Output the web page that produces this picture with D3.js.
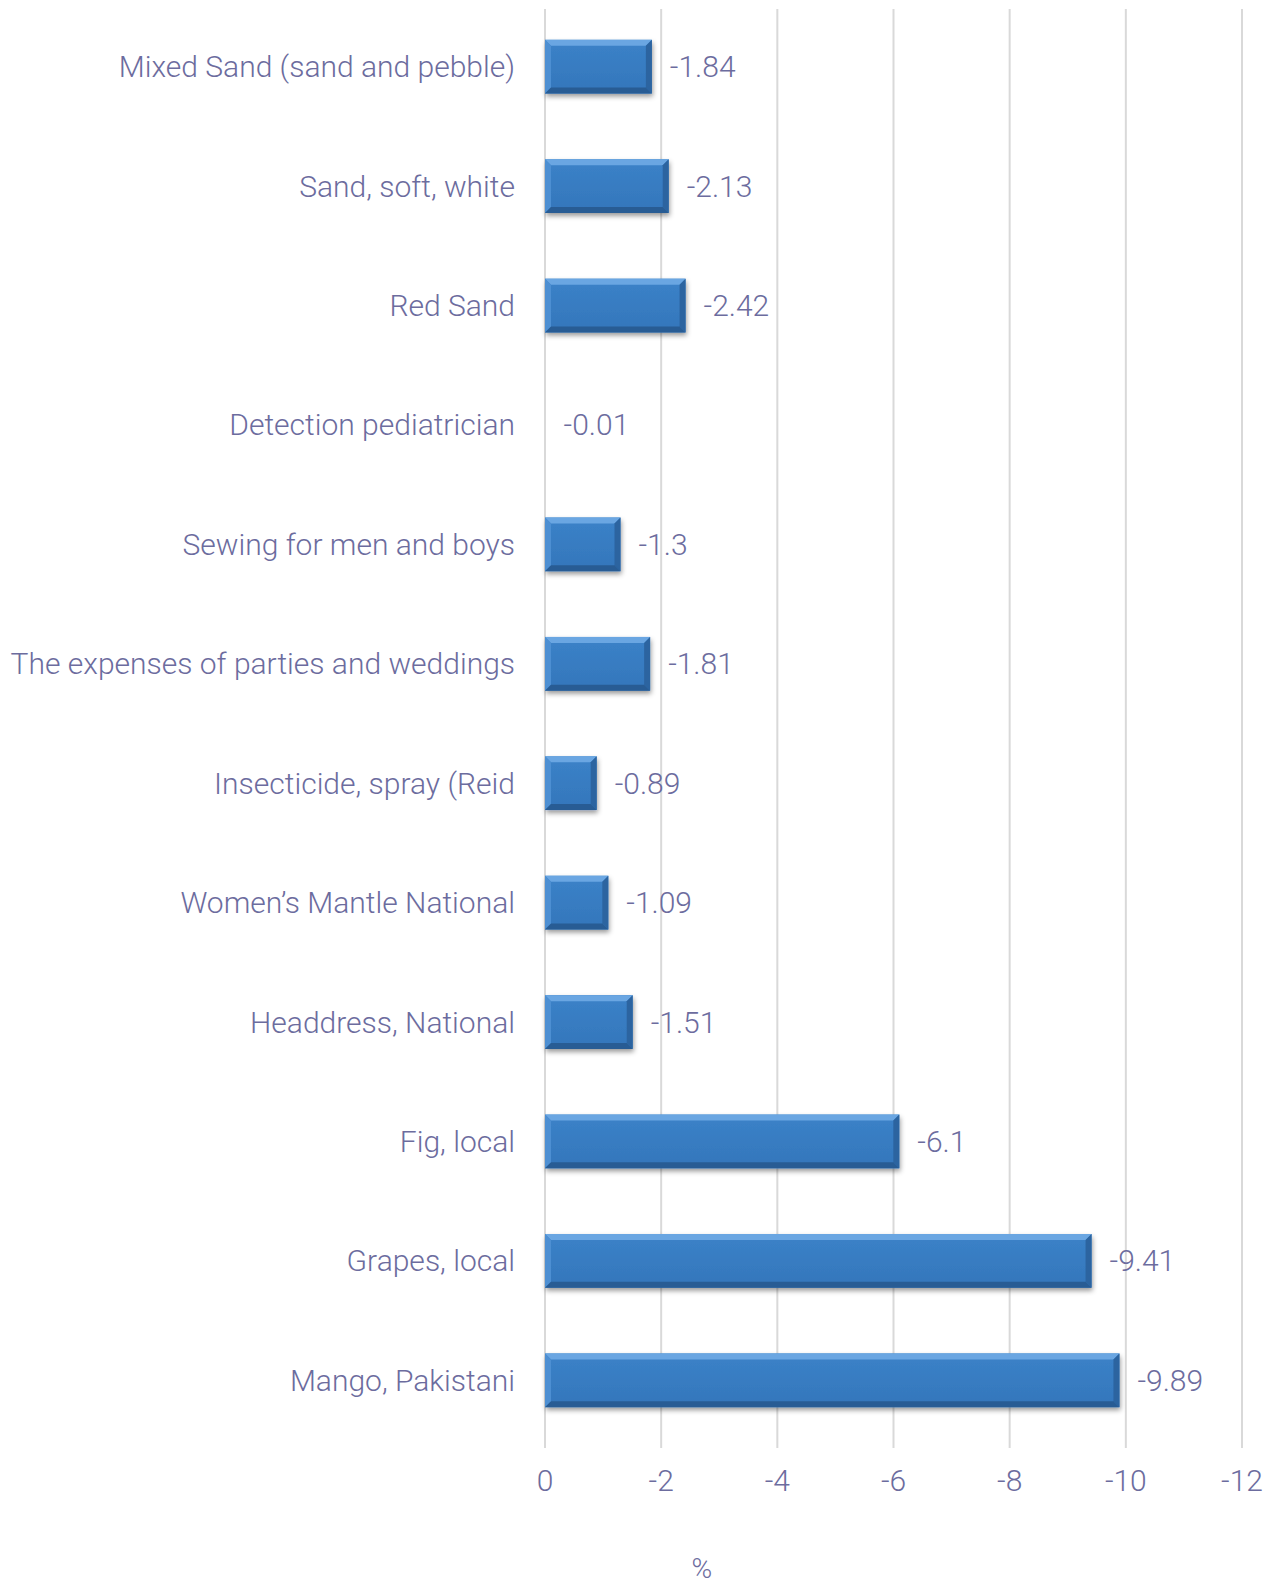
<!DOCTYPE html>
<html>
<head>
<meta charset="utf-8">
<script src="https://cdn.jsdelivr.net/npm/d3@7"></script>
<style>
  body { margin: 0; background: #fff; }
  text { font-family: Roboto, "Open Sans", sans-serif; font-weight: 300; fill: #6c6c9e; }
</style>
</head>
<body>
<div id="chart"></div>
<script>
// Data
const categories = [
    'Mixed Sand (sand and pebble)',
    'Sand, soft, white',
    'Red Sand',
    'Detection pediatrician',
    'Sewing for men and boys',
    'The expenses of parties and weddings',
    'Insecticide, spray (Reid',
    'Women\u2019s Mantle National',
    'Headdress, National',
    'Fig, local',
    'Grapes, local',
    'Mango, Pakistani'
];
const values = [-1.84, -2.13, -2.42, -0.01, -1.3, -1.81, -0.89, -1.09, -1.51, -6.1, -9.41, -9.89];
const valueLabels = ['-1.84', '-2.13', '-2.42', '-0.01', '-1.3', '-1.81', '-0.89', '-1.09', '-1.51', '-6.1', '-9.41', '-9.89'];
const xTicks = [0, -2, -4, -6, -8, -10, -12];
const axisTitle = '%';

const W = 1277, H = 1586;
const margin = { top: 7, right: 35, bottom: 146, left: 545 };
const width = W - margin.left - margin.right;
const height = H - margin.top - margin.bottom;

const svg = d3.select('#chart')
    .append('svg')
    .attr('width', W)
    .attr('height', H);

const defs = svg.append('defs');

// bar body gradient
const grad = defs.append('linearGradient')
    .attr('id', 'bar-grad')
    .attr('x1', '0%').attr('y1', '0%')
    .attr('x2', '0%').attr('y2', '100%');
grad.append('stop').attr('offset', '0%').attr('stop-color', '#3b82c8');
grad.append('stop').attr('offset', '100%').attr('stop-color', '#3476bb');

const shadow = defs.append('filter')
    .attr('id', 'bar-shadow')
    .attr('x', '-10%').attr('y', '-20%')
    .attr('width', '130%').attr('height', '160%');
shadow.append('feDropShadow')
    .attr('dx', 1).attr('dy', 3)
    .attr('stdDeviation', 2.5)
    .attr('flood-color', '#000')
    .attr('flood-opacity', 0.4);

const g = svg.append('g')
    .attr('transform', `translate(${margin.left},${margin.top})`);

// Scales
const x = d3.scaleLinear()
    .domain([0, -12])
    .range([0, width]);

const y = d3.scaleBand()
    .domain(categories)
    .range([0, height])
    .paddingInner(0.55)
    .paddingOuter(0.275);

// Gridlines
g.append('g')
    .selectAll('line')
    .data(xTicks)
    .join('line')
    .attr('x1', d => x(d))
    .attr('x2', d => x(d))
    .attr('y1', 2)
    .attr('y2', height + 8)
    .attr('stroke', '#d9d9d9')
    .attr('stroke-width', 2);

// Bars with bevel
const bev = 6;
const bars = g.append('g')
    .selectAll('g')
    .data(categories.map((c, i) => ({ cat: c, value: values[i], label: valueLabels[i] })))
    .join('g')
    .attr('transform', d => `translate(${x(0)},${y(d.cat)})`);

const bh = y.bandwidth();

bars.each(function (d) {
    const bw = x(d.value) - x(0);
    const sel = d3.select(this);
    if (bw < 1) return;
    const b = Math.min(bev, bw / 2);
    sel.append('rect')
        .attr('width', bw)
        .attr('height', bh)
        .attr('fill', 'url(#bar-grad)')
        .attr('filter', 'url(#bar-shadow)');
    // top bevel
    sel.append('path')
        .attr('d', `M0,0 L${bw},0 L${bw - b},${b} L${b},${b} Z`)
        .attr('fill', '#6aa6e2');
    // left bevel
    sel.append('path')
        .attr('d', `M0,0 L${b},${b} L${b},${bh - b} L0,${bh} Z`)
        .attr('fill', '#4d8fd2');
    // right bevel
    sel.append('path')
        .attr('d', `M${bw},0 L${bw},${bh} L${bw - b},${bh - b} L${bw - b},${b} Z`)
        .attr('fill', '#2c64a0');
    // bottom bevel
    sel.append('path')
        .attr('d', `M0,${bh} L${b},${bh - b} L${bw - b},${bh - b} L${bw},${bh} Z`)
        .attr('fill', '#285c94');
});

// Value labels
bars.append('text')
    .attr('x', d => x(d.value) - x(0) + 18)
    .attr('y', bh / 2)
    .attr('dy', '0.35em')
    .style('font-size', '30px')
    .text(d => d.label);

// Category labels
g.append('g')
    .selectAll('text')
    .data(categories)
    .join('text')
    .attr('x', -30)
    .attr('y', d => y(d) + bh / 2)
    .attr('dy', '0.35em')
    .attr('text-anchor', 'end')
    .style('font-size', '30px')
    .text(d => d);

// X axis labels
g.append('g')
    .selectAll('text')
    .data(xTicks)
    .join('text')
    .attr('x', d => x(d))
    .attr('y', height + 40)
    .attr('dy', '0.35em')
    .attr('text-anchor', 'middle')
    .style('font-size', '30px')
    .text(d => d === 0 ? '0' : '-' + Math.abs(d));

// Axis title
g.append('text')
    .attr('x', x(-2.7))
    .attr('y', height + 128)
    .attr('dy', '0.35em')
    .attr('text-anchor', 'middle')
    .style('font-size', '28px')
    .text(axisTitle);
</script>
</body>
</html>
